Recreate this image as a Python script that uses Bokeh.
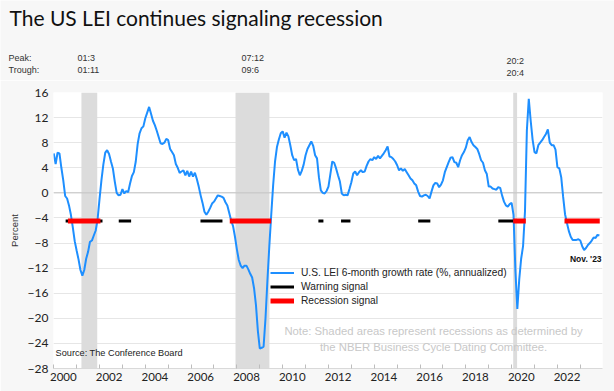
from bokeh.plotting import figure
from bokeh.layouts import column
from bokeh.models import (Range1d, FixedTicker, CustomJSTickFormatter, Label, Legend,
                          LegendItem, BoxAnnotation, Span)
from bokeh.core.properties import value
from bokeh.embed import file_html
from bokeh.resources import INLINE

# ---------------- data ----------------
start_year = 2000
lei_6m = [
    6.3, 4.6, 6.4, 6.3, 4.0, 2.0, -0.5, -0.9, -2.0, -3.5, -5.5, -7.7,          # 2000
    -9.2, -10.6, -12.3, -13.2, -12.3, -10.5, -9.4, -7.8, -7.6, -6.8, -6.0, -4.2,  # 2001
    -1.0, 2.0, 4.5, 6.4, 6.8, 6.2, 5.0, 3.9, 1.8, 0.0, -0.4, -0.3,            # 2002
    0.6, -0.1, 0.3, 0.1, 1.5, 2.7, 3.3, 5.0, 7.8, 9.5, 10.3, 10.6,            # 2003
    11.9, 12.8, 13.7, 12.6, 11.5, 10.8, 9.9, 8.9, 7.9, 7.8, 8.0, 8.6,         # 2004
    8.4, 7.0, 6.5, 6.0, 4.6, 4.0, 3.2, 3.4, 3.6, 2.8, 3.5, 2.6,               # 2005
    3.4, 2.6, 3.2, 2.2, 1.0, -0.4, -1.6, -3.0, -3.5, -3.0, -2.4, -1.7,        # 2006
    -1.4, -0.9, -0.4, -0.5, -0.6, -0.8, -1.5, -2.0, -3.2, -4.4, -5.3, -7.0,   # 2007
    -9.0, -10.7, -11.6, -12.0, -11.6, -11.6, -12.2, -12.9, -13.5, -15.2, -17.9, -22.0,  # 2008
    -24.8, -24.7, -24.5, -20.0, -14.0, -8.5, -3.5, 1.2, 5.0, 7.3, 8.5, 9.5,   # 2009
    9.8, 8.8, 9.6, 9.0, 7.6, 6.0, 5.2, 5.4, 3.7, 2.8, 3.5, 4.5,               # 2010
    6.0, 7.0, 7.6, 8.2, 7.5, 6.0, 5.5, 2.5, 0.4, 0.0, -0.1, 0.3,              # 2011
    1.0, 3.0, 5.0, 4.8, 3.9, 2.8, 1.8, -0.1, -0.4, -0.3, -0.4, 0.6,           # 2012
    1.7, 3.1, 3.4, 2.8, 3.3, 3.6, 3.3, 3.4, 4.3, 5.0, 5.4, 5.2,               # 2013
    5.7, 5.4, 5.9, 5.5, 5.9, 6.3, 6.8, 7.4, 5.8, 5.7, 5.4, 5.0,               # 2014
    4.4, 3.6, 3.9, 3.5, 3.8, 3.3, 2.8, 2.3, 2.0, 1.5, 1.2, 0.2,               # 2015
    -0.5, -0.6, -0.4, -0.3, -0.5, -0.9, 0.2, 1.2, 1.6, 1.5, 0.9, 1.3,         # 2016
    2.0, 3.3, 4.1, 4.9, 5.6, 5.7, 4.9, 4.8, 4.1, 5.2, 6.0, 6.5,               # 2017
    7.2, 8.4, 8.9, 8.1, 7.6, 7.3, 7.0, 6.2, 5.2, 4.8, 3.6, 3.0,               # 2018
    1.0, 1.0, 0.7, 0.6, 0.5, 0.9, 0.8, -0.4, -1.4, -2.0, -2.2, -1.8,          # 2019
    -1.6, -3.5, -12.5, -18.5, -13.8, -10.5, -8.5, -3.0, 10.0, 15.0, 11.5, 8.5,  # 2020
    6.5, 6.3, 7.6, 8.0, 8.4, 8.9, 9.4, 10.1, 8.0, 7.6, 7.6, 6.9,              # 2021
    4.1, 3.9, 2.5, -0.6, -3.4, -4.8, -6.1, -7.0, -7.5, -7.5, -7.5, -7.4,      # 2022
    -7.6, -8.5, -9.1, -8.8, -8.3, -8.0, -7.6, -7.1, -7.2, -6.7, -6.8,         # 2023 (to Nov)
]
months = [start_year + i / 12 for i in range(len(lei_6m))]

signal_level = -4.5
warning_start = [2000.52, 2002.84, 2006.41, 2011.56, 2012.55, 2015.92, 2019.42]
warning_end = [2002.13, 2003.38, 2007.37, 2011.78, 2012.96, 2016.45, 2020.08]
recession_sig_start = [2000.62, 2007.69, 2020.07, 2022.31]
recession_sig_end = [2002.04, 2009.50, 2020.62, 2023.85]

nber_start = [2001.21, 2007.94, 2020.07]
nber_end = [2001.90, 2009.42, 2020.24]

year_labels = [2000, 2002, 2004, 2006, 2008, 2010, 2012, 2014, 2016, 2018, 2020, 2022]
minor_years = list(range(2000, 2025))
y_ticks = [-28, -24, -20, -16, -12, -8, -4, 0, 4, 8, 12, 16]

title_text = "The US LEI continues signaling recession"
peak_labels = ["01:3", "07:12", "20:2"]
trough_labels = ["01:11", "09:6", "20:4"]

BG = "#f7f7f7"
W = 614
TOP_H = 80
MAIN_H = 391 - TOP_H

# ---------------- header figure (title + peak/trough) ----------------
top = figure(width=W, height=TOP_H, output_backend="svg", toolbar_location=None,
             x_range=Range1d(0, W), y_range=Range1d(TOP_H, 0),
             min_border=0, min_border_left=0, min_border_right=0,
             min_border_top=0, min_border_bottom=0,
             x_axis_location=None, y_axis_location=None)
top.frame_align = False
top.border_fill_color = BG
top.background_fill_color = BG
top.outline_line_color = None
top.grid.visible = False

top.text(x=[9], y=[17], text=[title_text], text_font=value("Lato"), text_font_size="21px",
         text_color="#111111", text_baseline="middle")
top.text(x=[8, 8], y=[57, 69], text=["Peak:", "Trough:"], text_font=value("Liberation Sans"),
         text_font_size="9px", text_color="#333333", text_baseline="middle")
hdr_x = [77, 241, 506]
top.text(x=hdr_x, y=[57, 57, 60], text=peak_labels, text_font=value("Liberation Sans"),
         text_font_size="9px", text_color="#333333", text_baseline="middle")
top.text(x=hdr_x, y=[69, 69, 72], text=trough_labels, text_font=value("Liberation Sans"),
         text_font_size="9px", text_color="#333333", text_baseline="middle")

# ---------------- main chart ----------------
p = figure(width=W, height=MAIN_H, output_backend="svg", toolbar_location=None,
           x_range=Range1d(1999.99, 2023.97), y_range=Range1d(-28, 16),
           min_border_left=53, min_border_right=12, min_border_top=12, min_border_bottom=23)
p.frame_align = False
p.border_fill_color = BG
p.background_fill_color = "white"
p.outline_line_color = None

for s, e in zip(nber_start, nber_end):
    p.add_layout(BoxAnnotation(left=s, right=e, fill_color="#dcdcdc", fill_alpha=1.0,
                               line_color=None, level="underlay"))

p.xgrid.visible = False
p.ygrid.grid_line_color = "#e6e6e6"
p.add_layout(Span(location=0, dimension="width", line_color="#c4c4c4", line_width=1, level="underlay"))

lei_r = p.line(months, lei_6m, line_color="#1E8FFF", line_width=2)
warn_r = p.multi_line([[s, e] for s, e in zip(warning_start, warning_end)],
                      [[signal_level, signal_level] for _ in warning_start],
                      line_color="black", line_width=3)
rec_r = p.multi_line([[s, e] for s, e in zip(recession_sig_start, recession_sig_end)],
                     [[signal_level, signal_level] for _ in recession_sig_start],
                     line_color="#ff0000", line_width=5)

xa = p.xaxis[0]
xa.ticker = FixedTicker(ticks=[y + 0.42 for y in year_labels], minor_ticks=minor_years)
xa.formatter = CustomJSTickFormatter(code="return String(Math.floor(tick));")
xa.axis_line_color = "#d9d9d9"
xa.major_tick_line_color = None
xa.major_tick_in = 0
xa.major_tick_out = 0
xa.minor_tick_line_color = "#bdbdbd"
xa.minor_tick_in = 4
xa.minor_tick_out = 0
xa.major_label_standoff = 4
xa.major_label_text_font = "Lato"
xa.major_label_text_font_size = "11.5px"
xa.major_label_text_color = "#222222"

ya = p.yaxis[0]
ya.ticker = FixedTicker(ticks=y_ticks)
ya.axis_line_color = None
ya.major_tick_line_color = None
ya.major_tick_in = 0
ya.major_tick_out = 0
ya.minor_tick_line_color = None
ya.minor_tick_in = 0
ya.minor_tick_out = 0
ya.major_label_standoff = 5
ya.major_label_text_font = "Lato"
ya.major_label_text_font_size = "12px"
ya.major_label_text_color = "#222222"
ya.axis_label = "Percent"
ya.axis_label_text_font = "Liberation Sans"
ya.axis_label_text_font_style = "normal"
ya.axis_label_text_font_size = "9.5px"
ya.axis_label_text_color = "#333333"
ya.axis_label_standoff = 5

legend = Legend(items=[
    LegendItem(label="U.S. LEI 6-month growth rate (%, annualized)", renderers=[lei_r]),
    LegendItem(label="Warning signal", renderers=[warn_r]),
    LegendItem(label="Recession signal", renderers=[rec_r]),
], location=(217, 61))
legend.label_text_font = "Liberation Sans"
legend.label_text_font_size = "10.2px"
legend.label_text_color = "#222222"
legend.glyph_width = 24
legend.glyph_height = 13
legend.label_height = 13
legend.label_standoff = 7
legend.spacing = 1
legend.padding = 0
legend.margin = 0
legend.border_line_color = None
legend.background_fill_alpha = 0
p.add_layout(legend)

def add_label(x, y, text, size, color="#333333", font="Liberation Sans", align="left", style="normal"):
    p.add_layout(Label(x=x, y=y, text=text, text_font=font, text_font_size=size,
                       text_color=color, text_align=align, text_baseline="middle",
                       text_font_style=style))

add_label(2016.59, -22.1, "Note: Shaded areas represent recessions as determined by", "11.3px",
          color="#c8c8c8", align="center")
add_label(2016.59, -24.65, "the NBER Business Cycle Dating Committee.", "11.3px",
          color="#c8c8c8", align="center")
add_label(2000.08, -25.45, "Source: The Conference Board", "9.2px", color="#222222")
add_label(2023.93, -10.6, "Nov. '23", "8.5px", color="#111111", align="right", style="bold")

layout = column(top, p, spacing=0)
open("out.html", "w").write(file_html(layout, INLINE))
